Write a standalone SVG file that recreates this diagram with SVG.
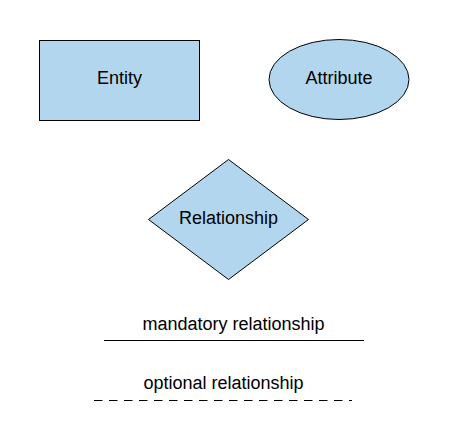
<svg xmlns="http://www.w3.org/2000/svg" width="449" height="440" viewBox="0 0 449 440">
<style>
.shape{fill:#b3d6ef;stroke:#000;stroke-width:1}
.lbl{font-family:"Liberation Sans",Arial,sans-serif;font-size:18px;fill:#000;text-anchor:middle}
.conn{stroke:#000;stroke-width:1;fill:none}
</style>
<rect width="449" height="440" fill="#fff"/>
<g id="entity">
<rect class="shape" x="39.5" y="40.5" width="160" height="80"/>
<text class="lbl" x="119.5" y="84">Entity</text>
</g>
<g id="attribute">
<ellipse class="shape" cx="339" cy="79.5" rx="70" ry="40"/>
<text class="lbl" x="339" y="84">Attribute</text>
</g>
<g id="relationship">
<polygon class="shape" points="148.5,219.5 228.5,159.5 308.5,219.5 228.5,279.5"/>
<text class="lbl" x="228.5" y="224">Relationship</text>
</g>
<g id="connectors">
<line class="conn" x1="104" y1="340.5" x2="364" y2="340.5"/>
<line class="conn" x1="94" y1="400.5" x2="352" y2="400.5" stroke-dasharray="8.5 6.5"/>
</g>
<g id="labels">
<text class="lbl" x="233.5" y="329.5">mandatory relationship</text>
<text class="lbl" x="223.5" y="388.5">optional relationship</text>
</g>
</svg>
